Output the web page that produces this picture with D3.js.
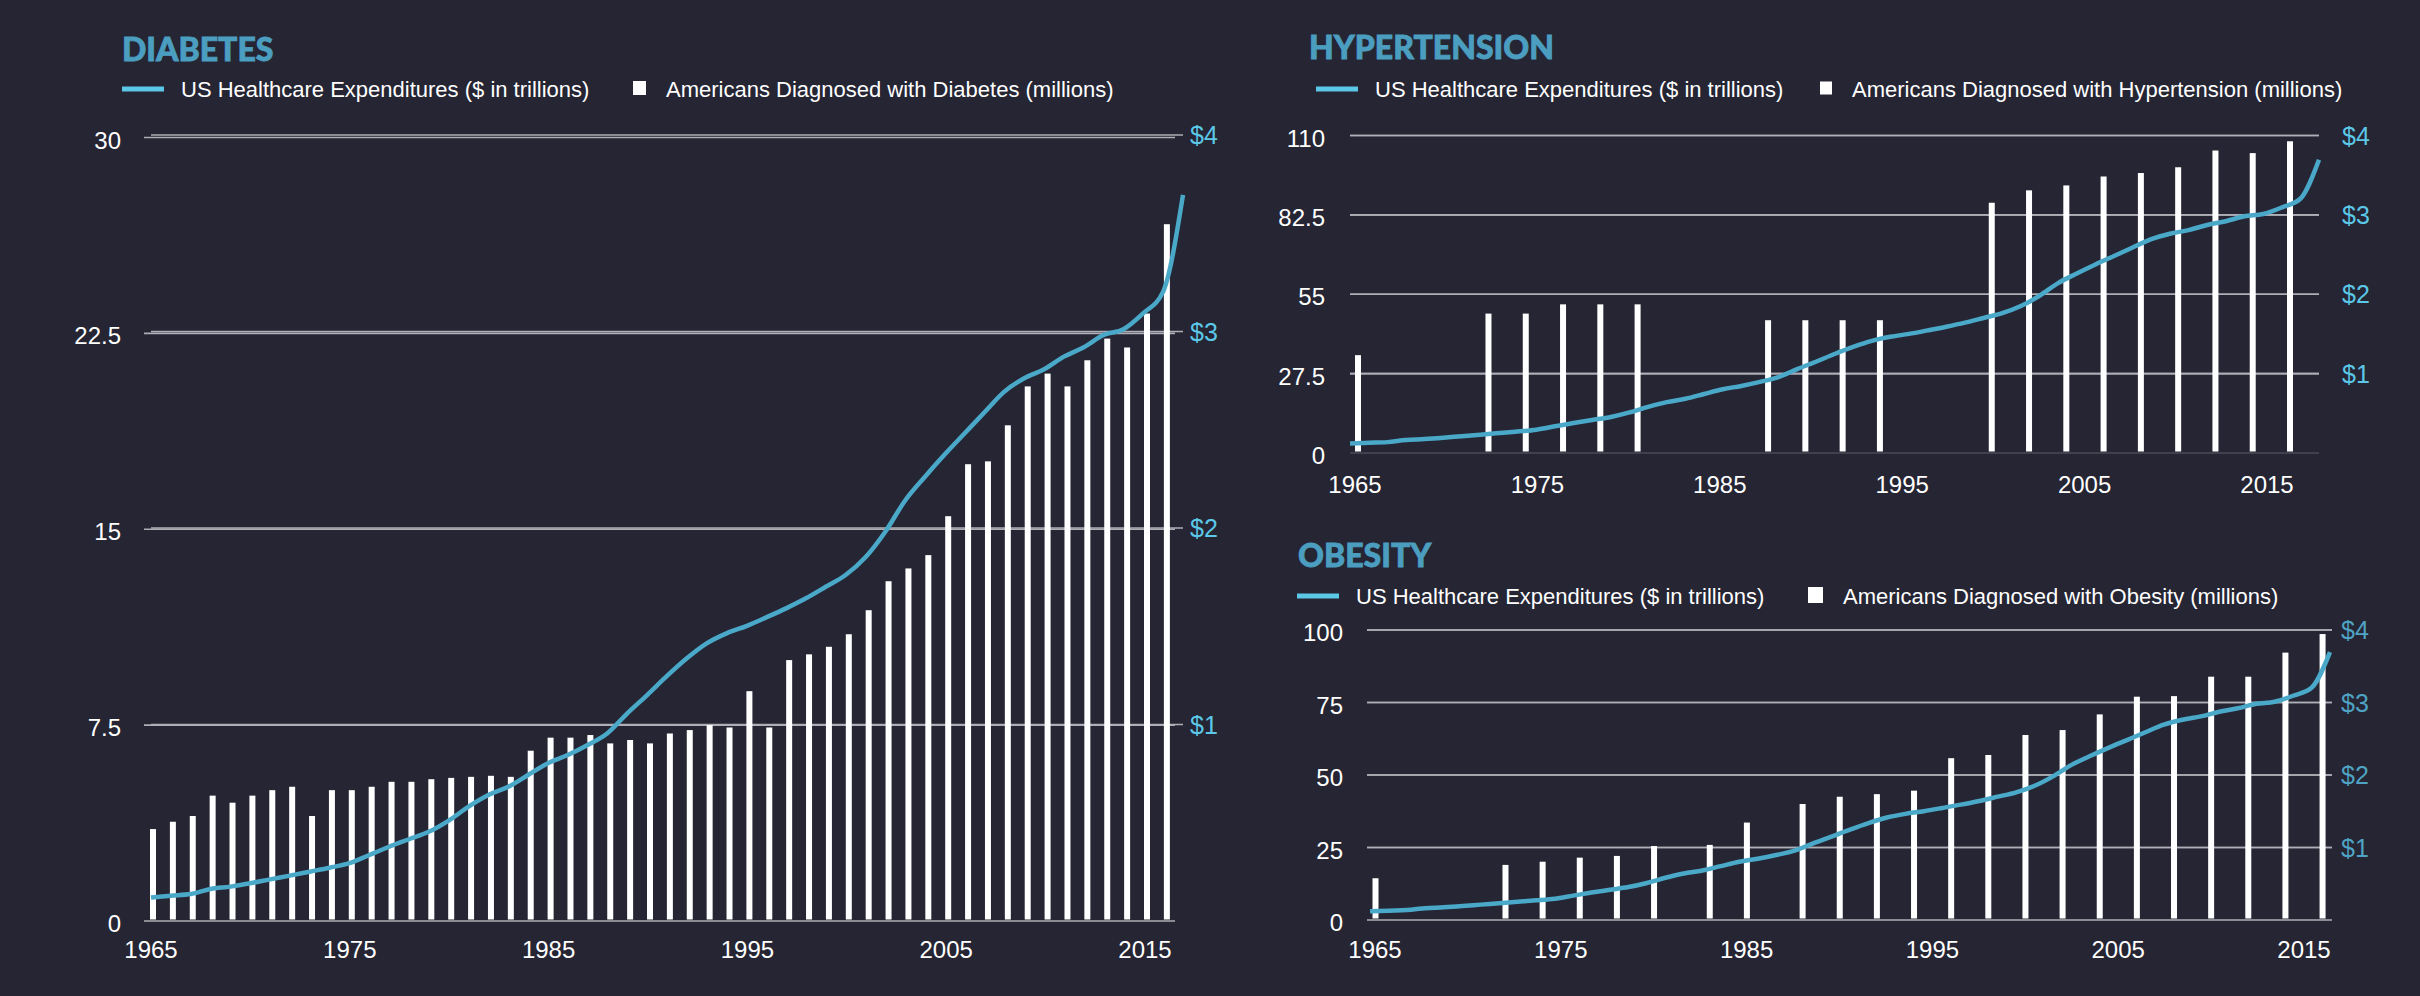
<!DOCTYPE html>
<html>
<head>
<meta charset="utf-8">
<script src="https://cdn.jsdelivr.net/npm/d3@7"></script>
<style>
  html, body { margin: 0; padding: 0; background: #252533; }
  svg { display: block; }
</style>
</head>
<body>
<svg id="chart"></svg>
<script>
// Shared series: US healthcare expenditures ($ trillions), one value per year 1965-2017
const spendYears = d3.range(1965, 2018);
const spendValues = [
    0.12, 0.129, 0.137, 0.163, 0.175, 0.192, 0.212, 0.231, 0.251, 0.271,
    0.294, 0.336, 0.378, 0.416, 0.454, 0.511, 0.582, 0.641, 0.683, 0.743,
    0.803, 0.845, 0.896, 0.956, 1.057, 1.150, 1.247, 1.337, 1.413, 1.464,
    1.501, 1.545, 1.591, 1.642, 1.701, 1.761, 1.851, 1.981, 2.140, 2.261,
    2.375, 2.482, 2.589, 2.694, 2.762, 2.808, 2.872, 2.920, 2.982, 3.011,
    3.093, 3.203, 3.695
];

// Diabetes (millions), every year 1965-2016
const diabetesYears = d3.range(1965, 2017);
const diabetesValues = [
    3.52, 3.80, 4.02, 4.80, 4.53, 4.80, 5.01, 5.14, 4.02, 5.01,
    5.01, 5.14, 5.33, 5.33, 5.43, 5.48, 5.52, 5.56, 5.52, 6.52,
    7.02, 7.02, 7.12, 6.80, 6.93, 6.80, 7.18, 7.31, 7.50, 7.41,
    8.80, 7.41, 9.99, 10.21, 10.50, 10.98, 11.90, 13.01, 13.50, 14.01,
    15.50, 17.49, 17.60, 18.98, 20.47, 20.96, 20.47, 21.47, 22.30, 21.96,
    23.26, 26.68
];

// Hypertension (millions)
const hypertensionYears = [1965, 1972, 1974, 1976, 1978, 1980, 1987, 1989, 1991, 1993,
    1999, 2001, 2003, 2005, 2007, 2009, 2011, 2013, 2015];
const hypertensionValues = [33.9, 48.3, 48.3, 51.5, 51.5, 51.5, 46.0, 46.0, 46.0, 46.0,
    86.7, 91.0, 92.7, 95.8, 97.0, 99.0, 104.8, 103.9, 108.0];

// Obesity (millions)
const obesityYears = [1965, 1972, 1974, 1976, 1978, 1980, 1983, 1985, 1988, 1990, 1992,
    1994, 1996, 1998, 2000, 2002, 2004, 2006, 2008, 2010, 2012, 2014, 2016];
const obesityValues = [14.4, 19.0, 20.1, 21.5, 22.1, 25.5, 25.9, 33.6, 40.0, 42.5, 43.4,
    44.6, 55.8, 56.9, 63.8, 65.5, 70.9, 77.0, 77.2, 83.9, 83.9, 92.2, 98.6];

// Tick labels
const yearTicks = [1965, 1975, 1985, 1995, 2005, 2015];
const diabetesTicks = [0, 7.5, 15, 22.5, 30];
const hypertensionTicks = [0, 27.5, 55, 82.5, 110];
const obesityTicks = [0, 25, 50, 75, 100];
const spendTicks = [1, 2, 3, 4];

const spendLabel = "US Healthcare Expenditures ($ in trillions)";

const W = 2420, H = 996;
const svg = d3.select("#chart").attr("width", W).attr("height", H);
svg.append("rect").attr("width", W).attr("height", H).attr("fill", "#252533");

const FONT = "'Liberation Sans', Arial, sans-serif";
const TITLE_FONT = "'Lato Black', Lato, 'Open Sans', sans-serif";

function drawPanel(cfg) {
    const g = svg.append("g");

    // scales
    const yLeft = d3.scaleLinear().domain([0, d3.max(cfg.ticks)]).range([cfg.y0, cfg.yTop]);
    const yRight = d3.scaleLinear().domain([0, 4]).range([cfg.y0, cfg.yTopRight]);
    const xLine = d3.scaleLinear().domain([1965, 2017]).range(cfg.lineX);
    const xBar = d3.scaleLinear().domain([1965, 2015]).range(cfg.barX);
    const xTick = d3.scaleLinear().domain([1965, 2015]).range(cfg.tickX);

    // title
    g.append("text")
        .attr("x", cfg.titleX).attr("y", cfg.titleY)
        .attr("font-family", TITLE_FONT).attr("font-weight", 900)
        .attr("font-size", 32).attr("fill", "#4b9ec0")
        .attr("stroke", "#4b9ec0").attr("stroke-width", 0.8)
        .text(cfg.title);

    // legend
    g.append("rect")
        .attr("x", cfg.legX).attr("y", cfg.legY - 2.5)
        .attr("width", 42).attr("height", 5)
        .attr("fill", "#5cc8e8");
    g.append("text")
        .attr("x", cfg.legX + 59).attr("y", cfg.legY + 8)
        .attr("font-family", FONT).attr("font-size", 22).attr("fill", "#fff")
        .text(spendLabel);
    g.append("rect")
        .attr("x", cfg.sqX).attr("y", cfg.legY - cfg.sq / 2 - 1)
        .attr("width", cfg.sq - 1).attr("height", cfg.sq)
        .attr("fill", "#fff");
    g.append("text")
        .attr("x", cfg.sqX + cfg.sq + 19).attr("y", cfg.legY + 8)
        .attr("font-family", FONT).attr("font-size", 22).attr("fill", "#fff")
        .text(cfg.barLabel);

    // gridlines, left axis set
    g.append("g").selectAll("line").data(cfg.ticks).join("line")
        .attr("x1", cfg.gridLeft[0]).attr("x2", cfg.gridLeft[1])
        .attr("y1", d => yLeft(d)).attr("y2", d => yLeft(d))
        .attr("stroke", d => (d === 0 ? cfg.baseColor : "#aeaeb6"))
        .attr("stroke-width", 1.6);

    // gridlines, right axis set
    g.append("g").selectAll("line").data(spendTicks).join("line")
        .attr("x1", cfg.gridRight[0]).attr("x2", cfg.gridRight[1])
        .attr("y1", d => yRight(d)).attr("y2", d => yRight(d))
        .attr("stroke", "#aeaeb6")
        .attr("stroke-width", 1.6);

    // left labels
    g.append("g").selectAll("text").data(cfg.ticks).join("text")
        .attr("x", cfg.leftLabelX).attr("y", d => yLeft(d) + 11)
        .attr("text-anchor", "end")
        .attr("font-family", FONT).attr("font-size", 24).attr("fill", "#fff")
        .text(d => d);

    // right labels
    g.append("g").selectAll("text").data(spendTicks).join("text")
        .attr("x", cfg.rightLabelX).attr("y", d => yRight(d) + 9)
        .attr("font-family", FONT).attr("font-size", 25).attr("fill", cfg.rightColor)
        .text(d => "$" + d);

    // year labels
    g.append("g").selectAll("text").data(yearTicks).join("text")
        .attr("x", d => xTick(d)).attr("y", cfg.y0 + cfg.yearDy)
        .attr("text-anchor", "middle")
        .attr("font-family", FONT).attr("font-size", 24).attr("fill", "#fff")
        .text(d => d);

    // bars
    const bars = cfg.years.map((yr, i) => ({ year: yr, value: cfg.values[i] }));
    g.append("g").selectAll("rect").data(bars).join("rect")
        .attr("x", d => xBar(d.year) - 3)
        .attr("width", 6)
        .attr("y", d => yLeft(d.value))
        .attr("height", d => yLeft(0) - yLeft(d.value) - 1.5)
        .attr("fill", "#ffffff");

    // spending line
    const spend = spendYears.map((yr, i) => ({ year: yr, value: spendValues[i] }));
    const line = d3.line()
        .x(d => xLine(d.year))
        .y(d => yRight(d.value))
        .curve(d3.curveMonotoneX);
    g.append("path")
        .datum(spend)
        .attr("fill", "none")
        .attr("stroke", "#4aa9c9")
        .attr("stroke-width", 4.5)
        .attr("stroke-linejoin", "round")
        .attr("d", line);
}

drawPanel({
    title: "DIABETES", titleX: 122, titleY: 61,
    barLabel: "Americans Diagnosed with Diabetes (millions)",
    legX: 122, legY: 89, sqX: 633, sq: 14,
    ticks: diabetesTicks, years: diabetesYears, values: diabetesValues,
    y0: 921, yTop: 137.5, yTopRight: 135,
    gridLeft: [144, 1175], gridRight: [151, 1183],
    lineX: [151, 1183], barX: [153, 1147], tickX: [151, 1145],
    leftLabelX: 121, rightLabelX: 1190, yearDy: 37,
    baseColor: "#aeaeb6", rightColor: "#5cc8e8"
});

drawPanel({
    title: "HYPERTENSION", titleX: 1309, titleY: 59,
    barLabel: "Americans Diagnosed with Hypertension (millions)",
    legX: 1316, legY: 89, sqX: 1820, sq: 13,
    ticks: hypertensionTicks, years: hypertensionYears, values: hypertensionValues,
    y0: 453, yTop: 135.5, yTopRight: 135.5,
    gridLeft: [1350, 2319], gridRight: [1350, 2319],
    lineX: [1350, 2319], barX: [1358, 2290], tickX: [1355, 2267],
    leftLabelX: 1325, rightLabelX: 2342, yearDy: 40,
    baseColor: "#4a4a5a", rightColor: "#5cc8e8"
});

drawPanel({
    title: "OBESITY", titleX: 1298, titleY: 567,
    barLabel: "Americans Diagnosed with Obesity (millions)",
    legX: 1297, legY: 596, sqX: 1808, sq: 16,
    ticks: obesityTicks, years: obesityYears, values: obesityValues,
    y0: 920, yTop: 630, yTopRight: 630,
    gridLeft: [1367, 2332], gridRight: [1367, 2332],
    lineX: [1370, 2330], barX: [1375.5, 2304], tickX: [1375, 2304],
    leftLabelX: 1343, rightLabelX: 2341, yearDy: 38,
    baseColor: "#aeaeb6", rightColor: "#4fa3c4"
});
</script>
</body>
</html>
